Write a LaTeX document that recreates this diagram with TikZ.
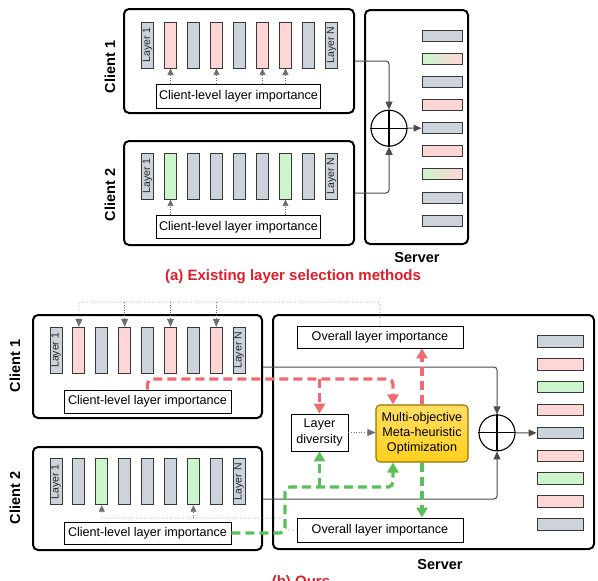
\documentclass[tikz,border=0pt]{standalone}
\usepackage{fontspec}
\setmainfont{Liberation Sans}
\usetikzlibrary{arrows.meta,calc}
\definecolor{barg}{RGB}{205,211,219}
\definecolor{barp}{RGB}{255,214,214}
\definecolor{barn}{RGB}{204,245,204}
\definecolor{bord}{RGB}{55,55,55}
\definecolor{connc}{RGB}{75,75,75}
\definecolor{dotc}{RGB}{110,110,110}
\definecolor{dredd}{RGB}{242,106,112}
\definecolor{dgreen}{RGB}{88,192,88}
\definecolor{titler}{RGB}{222,30,42}
\definecolor{moy}{RGB}{255,208,30}
\definecolor{moyb}{RGB}{150,115,0}
\newcommand{\myTxt}{\fontsize{12.6pt}{15.2pt}\selectfont}
\newcommand{\myLbl}{\fontsize{10.5pt}{12pt}\selectfont}
\newcommand{\myBold}{\fontsize{14.5pt}{17pt}\selectfont\bfseries}
\newcommand{\myTitle}{\fontsize{15pt}{18pt}\selectfont\bfseries}
\begin{document}
\begin{tikzpicture}[x=1pt,y=-1pt,
  bigbox/.style={draw=black,line width=2pt,rounded corners=5pt,inner sep=0pt},
  bar/.style={draw=bord,line width=1pt,minimum width=12pt,minimum height=46pt,inner sep=0pt},
  sbar/.style={draw=bord,line width=1pt,minimum width=40pt,minimum height=11pt,inner sep=0pt},
  sbarb/.style={sbar,minimum width=46pt,minimum height=11.5pt},
  cG/.style={fill=barg}, cP/.style={fill=barp}, cN/.style={fill=barn},
  cX/.style={left color=barn,right color=barp},
  tbox/.style={draw=black,line width=0.9pt,fill=white,inner sep=0pt,font=\myTxt,align=center},
  lbl/.style={rotate=90,font=\myLbl,inner sep=0pt,text=black!85},
  side/.style={rotate=90,font=\myBold,inner sep=0pt},
  conn/.style={draw=connc,line width=1pt,rounded corners=3pt},
  tip/.style={-{Triangle[length=8pt,width=7pt]}},
  stip/.style={-{Triangle[length=6.5pt,width=6pt]}},
  dotl/.style={draw=dotc,line width=0.6pt,dotted,rounded corners=3pt},
  rdash/.style={draw=dredd,line width=3.3pt,dash pattern=on 9pt off 5pt,rounded corners=5pt,-{Triangle[length=10pt,width=11pt]}},
  gdash/.style={draw=dgreen,line width=3.3pt,dash pattern=on 9pt off 5pt,rounded corners=5pt,-{Triangle[length=10pt,width=11pt]}},
  plus/.style={circle,draw=black,line width=1.1pt,minimum size=36pt,inner sep=0pt}
]
\useasboundingbox (0,0) rectangle (598,581);

% ================= (a) =================
\node[bigbox,minimum width=230pt,minimum height=104pt] (A1) at (239,61) {};
\node[bigbox,minimum width=230pt,minimum height=104pt] (A2) at (239,193) {};
\node[bigbox,minimum width=103pt,minimum height=234pt] (AS) at (416.5,127) {};

\node[side] (A1lab) at (110,67) {Client 1};
\node[side] (A2lab) at (110,195) {Client 2};
\node[font=\myBold,inner sep=0pt] (ASlab) at (417,258) {Server};
\node[font=\myTitle,text=titler,inner sep=0pt] (atitle) at (293,277) {(a) Existing layer selection methods};

\foreach \i/\c in {1/cG,2/cP,3/cG,4/cP,5/cG,6/cP,7/cP,8/cG,9/cG}
  \node[bar,\c] (aa\i) at ({147.5+23*(\i-1)},45) {};
\foreach \i/\c in {1/cG,2/cN,3/cG,4/cG,5/cG,6/cG,7/cN,8/cG,9/cG}
  \node[bar,\c] (ab\i) at ({147.5+23*(\i-1)},176) {};
\node[lbl] (aa1t) at (aa1) {Layer 1};
\node[lbl] (aa9t) at (aa9) {Layer N};
\node[lbl] (ab1t) at (ab1) {Layer 1};
\node[lbl] (ab9t) at (ab9) {Layer N};

\node[tbox,minimum width=164pt,minimum height=24pt] (ca1) at (238.5,96) {Client-level layer importance};
\node[tbox,minimum width=164pt,minimum height=23pt] (ca2) at (238.5,227) {Client-level layer importance};

\foreach \i in {2,4,6,7}
  \draw[dotl,stip] (aa\i.south |- ca1.north) -- (aa\i.south);
\foreach \i in {2,7}
  \draw[dotl,stip] (ab\i.south |- ca2.north) -- (ab\i.south);

\foreach \i/\c in {1/cG,2/cX,3/cG,4/cP,5/cG,6/cP,7/cX,8/cG,9/cG}
  \node[sbar,\c] (sa\i) at (442,{35.8+23.1*(\i-1)}) {};

\node[plus] (pa) at (389,128.2) {};
\draw[line width=1.1pt] (pa.north) -- (pa.south) (pa.west) -- (pa.east);
\coordinate (ya1) at (0,61);
\coordinate (ya2) at (0,193);
\draw[conn,tip] (A1.east |- ya1) -| (pa.north);
\draw[conn,tip] (A2.east |- ya2) -| (pa.south);
\draw[conn,tip] (pa.east) -- (sa5.west);

% ================= (b) =================
\node[bigbox,minimum width=229pt,minimum height=103pt] (B1) at (147.5,366.5) {};
\node[bigbox,minimum width=229pt,minimum height=103pt] (B2) at (147.5,498.5) {};
\node[bigbox,minimum width=321pt,minimum height=234pt] (BS) at (433.5,432) {};

\node[side] (B1lab) at (15,366) {Client 1};
\node[side] (B2lab) at (15,498) {Client 2};
\node[font=\myBold,inner sep=0pt] (BSlab) at (440,565) {Server};
\node[font=\myTitle,text=titler,inner sep=0pt,anchor=north] (btitle) at (301,575) {(b) Ours};

\foreach \i/\c in {1/cG,2/cP,3/cG,4/cP,5/cG,6/cP,7/cG,8/cP,9/cG}
  \node[bar,\c] (bb\i) at ({56+22.9*(\i-1)},350.3) {};
\foreach \i/\c in {1/cG,2/cG,3/cN,4/cG,5/cG,6/cG,7/cN,8/cG,9/cG}
  \node[bar,\c] (cc\i) at ({56+22.9*(\i-1)},481.7) {};
\node[lbl] (bb1t) at (bb1) {Layer 1};
\node[lbl] (bb9t) at (bb9) {Layer N};
\node[lbl] (cc1t) at (cc1) {Layer 1};
\node[lbl] (cc9t) at (cc9) {Layer N};

\node[tbox,minimum width=167pt,minimum height=23pt] (cb1) at (147.5,401.5) {Client-level layer importance};
\node[tbox,minimum width=167pt,minimum height=22pt] (cb2) at (147.5,533) {Client-level layer importance};

\node[tbox,minimum width=166pt,minimum height=22pt] (ov1) at (380,337) {Overall layer importance};
\node[tbox,minimum width=166pt,minimum height=24pt] (ov2) at (380,530) {Overall layer importance};
\node[tbox,minimum width=57pt,minimum height=37pt] (ld) at (319.5,432.5) {Layer\\diversity};
\node[draw=moyb,line width=1.1pt,top color=moy!70!white,bottom color=moy,rounded corners=4pt,
      minimum width=92pt,minimum height=57pt,inner sep=0pt,font=\myTxt,align=center] (mo) at (422,433.5)
      {Multi-objective\\Meta-heuristic\\Optimization};

\foreach \i/\c in {1/cG,2/cP,3/cN,4/cP,5/cG,6/cP,7/cN,8/cP,9/cG}
  \node[sbarb,\c] (sb\i) at (560,{341.5+22.85*(\i-1)}) {};

\node[plus] (pb) at (497,432.9) {};
\draw[line width=1.1pt] (pb.north) -- (pb.south) (pb.west) -- (pb.east);
\coordinate (yb1) at (0,367);
\coordinate (yb2) at (0,499);
\draw[conn,tip] (B1.east |- yb1) -| (pb.north);
\draw[conn,tip] (B2.east |- yb2) -| (pb.south);
\draw[conn,tip] (pb.east) -- (sb5.west);

% dotted top feedback
\coordinate (tp) at (0,302);
\draw[dotl,tip] (ov1.north) |- (bb2.north |- tp) -- (bb2.north);
\foreach \i in {4,6,8}
  \draw[dotl,tip] (bb\i.north |- tp) -- (bb\i.north);
% dotted bottom feedback
\coordinate (bp) at (285,518);
\draw[dotl,stip] (ov2.west) -| (bp) -- (cc3.south |- bp) -- (cc3.south);
\draw[dotl,stip] (cc7.south |- bp) -- (cc7.south);
% layer diversity -> MO
\draw[dotl,tip] (ld.east) -- (ld.east -| mo.west);

% red dashed
\coordinate (ry) at (0,379);
\coordinate (mx) at (393,0);
\draw[rdash] (cb1.north) |- (mx |- ry) -- (mx |- mo.north);
\draw[rdash] (ld.north |- ry) -- (ld.north);
\draw[rdash] (mo.north) -- (mo.north |- ov1.south);
% green dashed
\coordinate (gy) at (0,487);
\coordinate (gx) at (285,0);
\draw[gdash] (cb2.east) -| (gx |- gy) -| (mx |- mo.south);
\draw[gdash] (ld.south |- gy) -- (ld.south);
\draw[gdash] (mo.south) -- (mo.south |- ov2.north);
\end{tikzpicture}
\end{document}
